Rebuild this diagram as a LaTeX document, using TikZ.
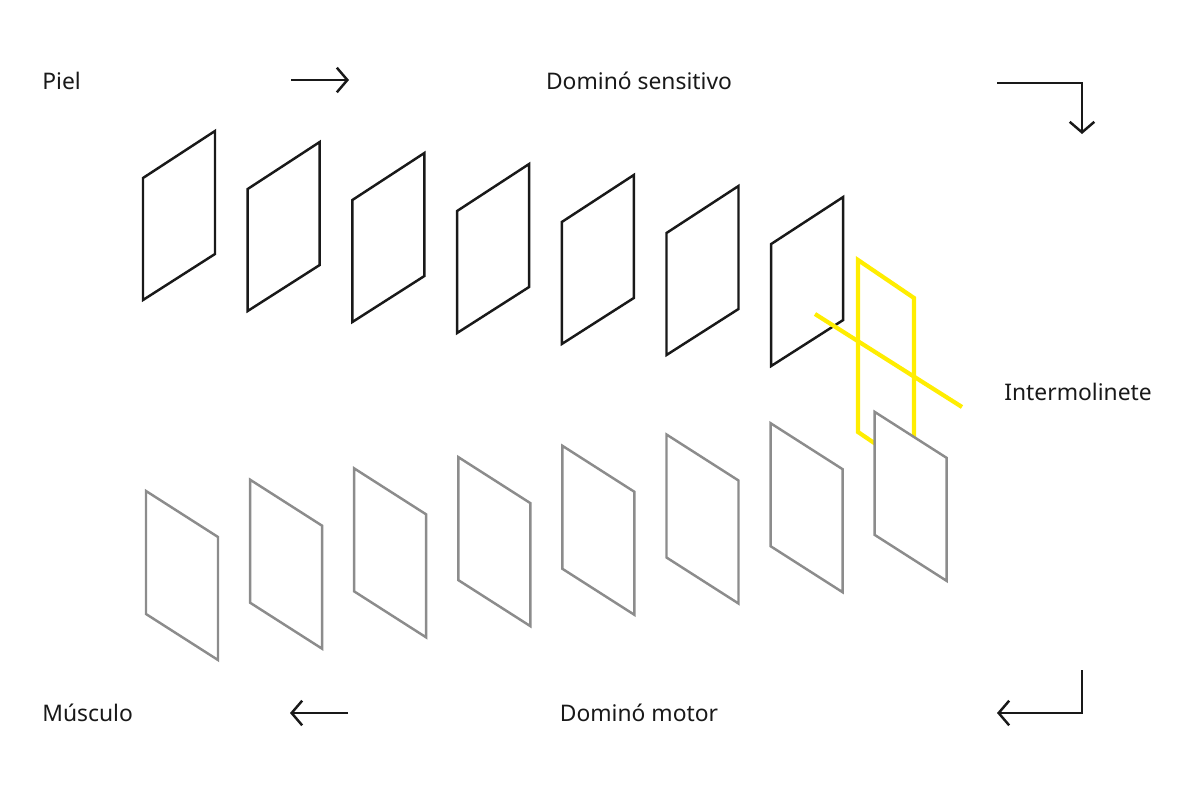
\documentclass[tikz,border=0pt]{standalone}
\usepackage{fontspec}
\setmainfont{Noto Sans}
\usetikzlibrary{arrows.meta}

\begin{document}
\begin{tikzpicture}[x=0.02cm,y=-0.02cm]
    \tikzset{
        label/.style={font=\fontsize{13}{15}\selectfont, text=black!90, inner sep=0pt},
        sensor/.style={draw=black!90, line width=1.4pt, line join=miter},
        motor/.style={draw=black!45, line width=1.4pt, fill=white},
        flow/.style={draw=black!90, line width=1.4pt, -{Straight Barb[length=6pt,width=14pt]}}
    }
    \useasboundingbox (0,0) rectangle (1200,794);
    % labels
    \node[label, anchor=west] (piel) at (42,81) {Piel};
    \node[label] (sens) at (639,81) {Dominó sensitivo};
    \node[label, anchor=west] (inter) at (1004,392) {Intermolinete};
    \node[label, anchor=west] (musc) at (42,713) {Músculo};
    \node[label] (mot) at (639,713) {Dominó motor};
    % sensory dominoes
    \foreach \i in {0,...,6}
        \draw[sensor, shift={(104.7*\i,11*\i)}] (143,178) -- (215,131) -- (215,254) -- (143,300) -- cycle;
    % yellow turnstile
    \draw[yellow!95!orange, line width=2.4pt] (858,260) -- (914,298) -- (914,470) -- (858,432) -- cycle;
    \draw[yellow!95!orange, line width=2.4pt] (815,314) -- (962,407);
    % motor dominoes
    \foreach \i in {0,...,7}
        \draw[motor, shift={(104.1*\i,-11.3*\i)}] (146,491) -- (218,537) -- (218,660) -- (146,614) -- cycle;
    % arrows
    \coordinate (a1) at (291,80);  \coordinate (a2) at (349,80);
    \coordinate (b1) at (997,83);  \coordinate (b2) at (1082,83); \coordinate (b3) at (1082,134);
    \coordinate (c1) at (1082,670); \coordinate (c2) at (1082,713); \coordinate (c3) at (997,713);
    \coordinate (d1) at (348,713); \coordinate (d2) at (290,713);
    \draw[flow] (a1) -- (a2);
    \draw[flow] (b1) -- (b2) -- (b3);
    \draw[flow] (c1) -- (c2) -- (c3);
    \draw[flow] (d1) -- (d2);
\end{tikzpicture}
\end{document}
